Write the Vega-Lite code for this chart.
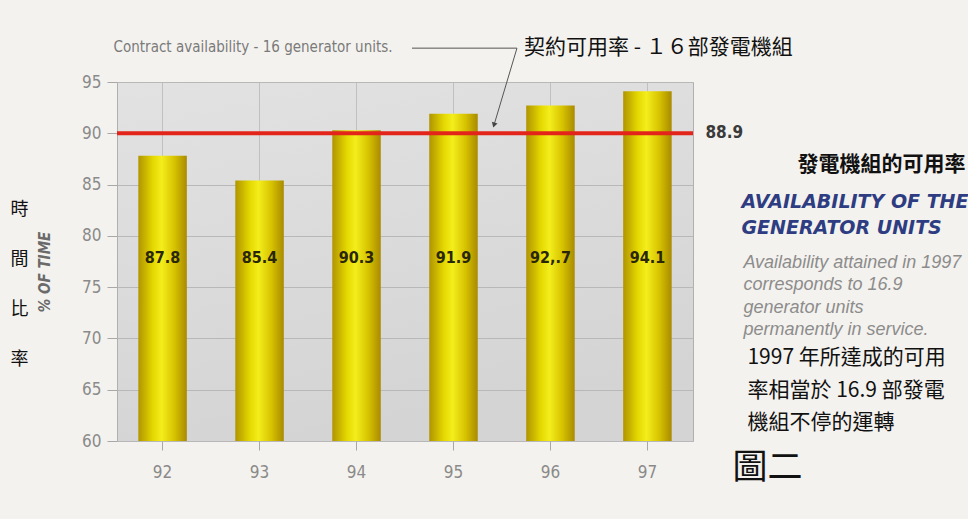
{
  "$schema": "https://vega.github.io/schema/vega-lite/v6.json",
  "width": 576,
  "height": 359,
  "autosize": {"type": "none"},
  "padding": {"left": 117, "top": 82, "right": 275, "bottom": 78},
  "background": "#f4f2ee",
  "config": {
    "view": {
      "stroke": "#b0b0b0",
      "fill": {"gradient": "linear", "x1": 0, "y1": 0, "x2": 0.3, "y2": 1, "stops": [{"offset": 0, "color": "#e2e2e2"}, {"offset": 1, "color": "#d4d4d4"}]}
    },
    "font": "Liberation Sans"
  },
  "layer": [
    {
      "data": {"values": [
        {"year": "92", "value": 87.8, "label": "87.8"},
        {"year": "93", "value": 85.4, "label": "85.4"},
        {"year": "94", "value": 90.3, "label": "90.3"},
        {"year": "95", "value": 91.9, "label": "91.9"},
        {"year": "96", "value": 92.7, "label": "92,.7"},
        {"year": "97", "value": 94.1, "label": "94.1"}
      ]},
      "layer": [
        {
          "mark": {"type": "bar", "color": {"gradient": "linear", "x1": 0, "y1": 0, "x2": 1, "y2": 0, "stops": [
            {"offset": 0, "color": "#b09400"},
            {"offset": 0.3, "color": "#e4d800"},
            {"offset": 0.48, "color": "#f4ee1c"},
            {"offset": 0.75, "color": "#d6c200"},
            {"offset": 1, "color": "#a98a00"}
          ]}},
          "encoding": {
            "x": {"field": "year", "type": "ordinal",
              "scale": {"paddingInner": 0.5, "paddingOuter": 0.22},
              "axis": {"title": null, "labelAngle": 0, "bandPosition": 0.5, "grid": true, "gridColor": "#c0c0c0", "tickSize": 9, "tickColor": "#a8a8a8", "labelColor": "#8a8a8a", "labelFontSize": 17, "labelFont": "Liberation Sans Narrow, DejaVu Sans Condensed, sans-serif", "labelPadding": 14, "domain": false}},
            "y": {"field": "value", "type": "quantitative",
              "scale": {"domain": [60, 95], "zero": false, "nice": false},
              "axis": {"title": null, "values": [60, 65, 70, 75, 80, 85, 90, 95], "grid": true, "gridColor": "#b8b8b8", "tickSize": 10, "tickColor": "#a8a8a8", "labelColor": "#8a8a8a", "labelFontSize": 17, "labelFont": "Liberation Sans Narrow, DejaVu Sans Condensed, sans-serif", "labelPadding": 6, "domain": false}},
            "y2": {"datum": 60}
          }
        },
        {
          "mark": {"type": "text", "fontWeight": "bold", "fontSize": 16, "font": "Liberation Sans Narrow, DejaVu Sans Condensed, sans-serif", "color": "#2a2608"},
          "encoding": {
            "x": {"field": "year", "type": "ordinal"},
            "y": {"datum": 77.84},
            "text": {"field": "label"}
          }
        }
      ]
    },
    {
      "data": {"values": [{"value": 90, "label": "88.9"}]},
      "layer": [
        {
          "mark": {"type": "rule", "color": "#e2241a", "strokeWidth": 4},
          "encoding": {"y": {"field": "value", "type": "quantitative"}}
        },
        {
          "mark": {"type": "text", "align": "left", "xOffset": 58, "fontWeight": "bold", "fontSize": 17, "font": "Liberation Sans Narrow, DejaVu Sans Condensed, sans-serif", "color": "#3a3a3a"},
          "encoding": {
            "x": {"datum": "97", "type": "ordinal"},
            "y": {"field": "value", "type": "quantitative"},
            "text": {"field": "label"}
          }
        }
      ]
    },
    {
      "data": {"values": [{"t": "Contract availability - 16 generator units."}]},
      "mark": {"type": "text", "align": "left", "xOffset": -49, "fontSize": 15, "font": "Liberation Sans Narrow, DejaVu Sans Condensed, sans-serif", "color": "#7a7a7a"},
      "encoding": {"x": {"datum": "92", "type": "ordinal"}, "y": {"datum": 98.4}, "text": {"field": "t"}}
    },
    {
      "data": {"values": [{}]},
      "mark": {"type": "rule", "color": "#555555", "strokeWidth": 1, "xOffset": -41.5, "x2Offset": -33.5},
      "encoding": {"x": {"datum": "95", "type": "ordinal"}, "x2": {"datum": "96"}, "y": {"datum": 98.3}}
    },
    {
      "data": {"values": [{}]},
      "mark": {"type": "rule", "color": "#555555", "strokeWidth": 1, "xOffset": -33.5, "x2Offset": 40.5},
      "encoding": {"x": {"datum": "96", "type": "ordinal"}, "x2": {"datum": "95"}, "y": {"datum": 98.3}, "y2": {"datum": 90.8}}
    },
    {
      "data": {"values": [{}]},
      "mark": {"type": "point", "shape": "triangle-down", "filled": true, "color": "#444444", "opacity": 1, "size": 35, "angle": 17, "xOffset": 40.5},
      "encoding": {"x": {"datum": "95", "type": "ordinal"}, "y": {"datum": 90.8}}
    },
    {
      "data": {"values": [{"t": "契約可用率 - １６部發電機組"}]},
      "mark": {"type": "text", "align": "left", "xOffset": -26.5, "fontSize": 21, "font": "Noto Sans CJK TC", "color": "#111111"},
      "encoding": {"x": {"datum": "96", "type": "ordinal"}, "y": {"datum": 98.3}, "text": {"field": "t"}}
    },
    {
      "data": {"values": [{"t": "時\n間\n比\n率"}]},
      "mark": {"type": "text", "align": "center", "baseline": "middle", "lineBreak": "\n", "lineHeight": 50, "xOffset": -143, "fontSize": 18, "font": "Noto Sans CJK TC", "color": "#111111"},
      "encoding": {"x": {"datum": "92", "type": "ordinal"}, "y": {"datum": 82.52}, "text": {"field": "t"}}
    },
    {
      "data": {"values": [{"t": "% OF TIME"}]},
      "mark": {"type": "text", "align": "center", "baseline": "middle", "angle": 270, "xOffset": -118, "fontSize": 15, "fontWeight": "bold", "fontStyle": "italic", "font": "Liberation Sans Narrow, DejaVu Sans Condensed, sans-serif", "color": "#6a6a6a"},
      "encoding": {"x": {"datum": "92", "type": "ordinal"}, "y": {"datum": 76.48}, "text": {"field": "t"}}
    },
    {
      "data": {"values": [{"t": "發電機組的可用率"}]},
      "mark": {"type": "text", "align": "right", "baseline": "middle", "xOffset": 318, "fontSize": 21, "fontWeight": "bold", "font": "Noto Sans CJK TC", "color": "#111111"},
      "encoding": {"x": {"datum": "97", "type": "ordinal"}, "y": {"datum": 86.91}, "text": {"field": "t"}}
    },
    {
      "data": {"values": [{"t": "AVAILABILITY OF THE\nGENERATOR UNITS"}]},
      "mark": {"type": "text", "align": "left", "baseline": "middle", "lineBreak": "\n", "lineHeight": 26, "xOffset": 94, "fontSize": 19, "fontWeight": "bold", "fontStyle": "italic", "font": "DejaVu Sans", "color": "#2e3d82"},
      "encoding": {"x": {"datum": "97", "type": "ordinal"}, "y": {"datum": 83.30}, "text": {"field": "t"}}
    },
    {
      "data": {"values": [{"t": "Availability attained in 1997\ncorresponds to 16.9\ngenerator units\npermanently in service."}]},
      "mark": {"type": "text", "align": "left", "baseline": "middle", "lineBreak": "\n", "lineHeight": 22.3, "xOffset": 96, "fontSize": 18, "fontStyle": "italic", "font": "Liberation Sans", "color": "#8c8c8c"},
      "encoding": {"x": {"datum": "97", "type": "ordinal"}, "y": {"datum": 77.35}, "text": {"field": "t"}}
    },
    {
      "data": {"values": [{"t": "1997 年所達成的可用\n率相當於 16.9 部發電\n機組不停的運轉"}]},
      "mark": {"type": "text", "align": "left", "baseline": "middle", "lineBreak": "\n", "lineHeight": 32.5, "xOffset": 100, "fontSize": 21, "font": "Noto Sans CJK TC", "color": "#111111"},
      "encoding": {"x": {"datum": "97", "type": "ordinal"}, "y": {"datum": 68.09}, "text": {"field": "t"}}
    },
    {
      "data": {"values": [{"t": "圖二"}]},
      "mark": {"type": "text", "align": "left", "baseline": "middle", "xOffset": 85, "fontSize": 35, "font": "Noto Sans CJK TC", "color": "#111111"},
      "encoding": {"x": {"datum": "97", "type": "ordinal"}, "y": {"datum": 57.37}, "text": {"field": "t"}}
    }
  ]
}
